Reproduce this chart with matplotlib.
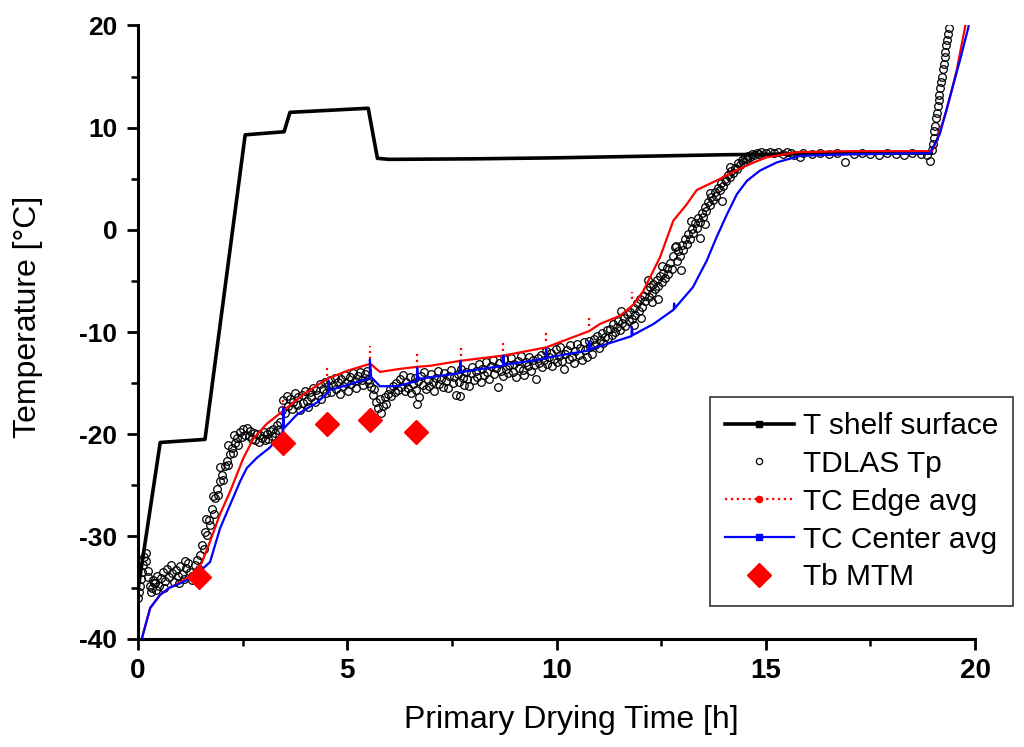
import matplotlib
matplotlib.use("Agg")
from matplotlib import pyplot as plt
from matplotlib.lines import Line2D
from matplotlib.ticker import MultipleLocator

# shelf surface temperature
shelf_t = [0.00, 0.53, 1.60, 2.56, 3.49, 3.63, 5.50, 5.72, 6.00, 8.00,
           10.00, 12.00, 14.00, 16.00, 18.00, 18.95]
shelf_T = [-35.2, -20.8, -20.5, 9.3, 9.6, 11.5, 11.9, 7.0, 6.9, 6.95,
           7.05, 7.2, 7.35, 7.45, 7.5, 7.5]

# TDLAS product temperature
tdlas_t = [
    0.00, 0.03, 0.05, 0.08, 0.10, 0.13, 0.15, 0.18, 0.20, 0.23, 0.25, 0.28, 0.30, 0.33, 0.35, 0.38,
    0.40, 0.42, 0.45, 0.50, 0.55, 0.60, 0.62, 0.65, 0.70, 0.75, 0.78, 0.80, 0.85, 0.90, 0.95,
    0.98, 1.00, 1.05, 1.10, 1.12, 1.15, 1.20, 1.25, 1.28, 1.30, 1.35, 1.40, 1.45, 1.49,
    1.53, 1.57, 1.61, 1.65, 1.69, 1.73, 1.77, 1.81, 1.84, 1.88, 1.92, 1.96, 2.00, 2.04, 2.08,
    2.12, 2.16, 2.20, 2.24, 2.28, 2.32, 2.36, 2.40, 2.44, 2.48, 2.52, 2.56, 2.60, 2.64, 2.68,
    2.72, 2.76, 2.80, 2.84, 2.88, 2.92, 2.96, 3.00, 3.04, 3.07, 3.11, 3.15, 3.19, 3.23, 3.27,
    3.31, 3.35, 3.39,
    3.43, 3.47, 3.51, 3.55, 3.59, 3.63, 3.67, 3.71, 3.75, 3.79, 3.83, 3.87, 3.91, 3.95, 3.99,
    4.03, 4.07, 4.11, 4.14, 4.18, 4.22, 4.26, 4.30, 4.34, 4.38, 4.42, 4.46, 4.50, 4.54, 4.58,
    4.62, 4.66, 4.70, 4.74, 4.78, 4.82, 4.86, 4.90, 4.94, 4.98, 5.02, 5.06, 5.10, 5.14, 5.18,
    5.22, 5.26, 5.30, 5.34, 5.38, 5.42, 5.46, 5.50, 5.53,
    5.57, 5.61, 5.65, 5.69, 5.73, 5.77, 5.81, 5.85, 5.89, 5.93, 5.97, 6.01, 6.05, 6.09, 6.13,
    6.17, 6.21,
    6.25, 6.29, 6.33, 6.37, 6.41, 6.45, 6.49, 6.53, 6.57, 6.61, 6.65, 6.69, 6.72, 6.76, 6.80,
    6.84, 6.88, 6.92, 6.96, 7.00, 7.04, 7.08, 7.12, 7.16, 7.20, 7.24, 7.28, 7.32, 7.36, 7.40,
    7.44, 7.48, 7.52, 7.56, 7.60, 7.64, 7.68, 7.72, 7.76, 7.79, 7.83, 7.87, 7.91, 7.95,
    7.99, 8.03, 8.07, 8.11, 8.15, 8.19, 8.23, 8.27, 8.31, 8.35, 8.39, 8.43, 8.47, 8.51, 8.55,
    8.59, 8.63, 8.67, 8.71, 8.75, 8.79, 8.83, 8.87, 8.91, 8.95, 8.99, 9.03, 9.07, 9.11, 9.15,
    9.19, 9.23, 9.27, 9.31, 9.35, 9.39, 9.43, 9.47, 9.51, 9.55, 9.59,
    9.62, 9.66, 9.70, 9.74, 9.78, 9.82, 9.86, 9.90, 9.94, 9.98, 10.02, 10.06, 10.09, 10.13,
    10.17, 10.21, 10.25, 10.29, 10.33, 10.37, 10.41, 10.45, 10.49, 10.53, 10.57, 10.61, 10.65,
    10.69, 10.73, 10.77, 10.81, 10.85, 10.89, 10.93, 10.97, 11.01, 11.04, 11.08, 11.12, 11.16,
    11.20,
    11.24, 11.28, 11.32, 11.36, 11.40, 11.44, 11.48, 11.52, 11.56, 11.60, 11.64, 11.68, 11.72,
    11.76, 11.80, 11.84, 11.88, 11.92, 11.96, 12.00, 12.04, 12.08, 12.12, 12.16, 12.20, 12.24,
    12.27, 12.31, 12.35, 12.39, 12.43, 12.47, 12.51, 12.55, 12.59, 12.63, 12.67, 12.71, 12.75,
    12.79, 12.83, 12.87, 12.91, 12.95, 12.99, 13.03, 13.07, 13.11, 13.15, 13.19, 13.23, 13.27,
    13.31, 13.35, 13.39, 13.43, 13.47, 13.50, 13.54, 13.58, 13.62, 13.66, 13.70, 13.74, 13.78,
    13.82, 13.86, 13.90, 13.94, 13.98, 14.02, 14.06, 14.10, 14.14, 14.18, 14.22, 14.26, 14.30,
    14.34, 14.38, 14.42, 14.46, 14.50, 14.54, 14.58, 14.63, 14.68, 14.73, 14.78, 14.83, 14.88,
    15.0, 15.1, 15.2, 15.3, 15.4, 15.5, 15.6, 15.68, 15.82, 15.9, 16.1, 16.3, 16.5, 16.7, 16.90,
    17.1, 17.3, 17.5, 17.7, 17.9, 18.1, 18.3, 18.5, 18.7, 18.85, 18.92,
    18.97, 18.99, 19.01, 19.03, 19.05, 19.07, 19.09, 19.11, 19.13, 19.15, 19.17, 19.19, 19.21,
    19.23, 19.25, 19.27, 19.29, 19.31, 19.33, 19.35, 19.37,
    11.55, 11.85, 12.02, 12.18, 12.28, 12.42, 12.52, 12.85, 12.97, 13.22, 13.42, 13.55, 13.66,
    13.95, 14.15, 1.62, 1.78, 1.95, 2.15, 2.30, 6.66, 7.70,
]
tdlas_T = [
    -36.0, -35.4, -34.8, -34.2, -33.5, -32.8, -32.0, -31.6, -32.4, -33.4, -34.0, -34.8, -35.4, -35.0, -34.3, -34.6,
    -34.6, -35.2, -33.9, -34.8, -34.1, -33.5, -35.0, -34.4, -33.2, -34.0, -32.8, -33.6, -34.5, -33.3, -33.9,
    -34.6, -32.9, -33.7, -34.2, -32.4, -33.1, -32.6, -33.5, -34.3, -33.9, -32.8, -32.3, -33.2, -31.8,
    -30.8, -31.2, -29.6, -29.9, -28.4, -28.9, -27.3, -27.8, -26.2, -25.4, -25.9, -24.6, -24.0, -24.5, -23.1,
    -22.6, -23.0, -21.9, -21.3, -21.8, -20.9, -20.4, -21.0, -19.8, -20.3, -19.5, -20.1, -19.4, -20.2, -19.7,
    -20.5, -19.9, -20.6, -20.0, -20.8, -20.1, -20.4, -19.8, -20.6, -20.0, -20.5, -19.7, -20.2, -19.5, -19.9,
    -19.1, -19.6, -18.8,
    -17.6, -16.6, -17.9, -16.3, -17.2, -16.5, -17.5, -16.8, -16.0, -17.1, -16.4, -17.6, -16.2, -16.9, -15.8,
    -16.7, -17.3, -15.9, -16.4, -15.5, -16.8, -15.7, -16.2, -15.1, -16.5, -15.6, -14.9, -16.0, -15.3, -14.7,
    -15.9, -15.2, -14.5, -15.6, -14.9, -16.1, -14.6, -15.3, -14.2, -15.0, -15.8, -14.4, -15.1, -14.0, -14.8,
    -15.5, -14.3, -13.9, -14.7, -15.2, -14.1, -13.8, -14.6, -15.0,
    -15.4, -16.2, -15.6, -16.8, -17.4, -16.5, -17.9, -17.2, -16.4, -17.0, -16.1, -15.6, -16.3, -15.3, -15.9,
    -15.0, -15.7,
    -14.6, -15.4, -14.2, -15.8, -14.9, -15.5, -14.4, -16.0, -15.1, -14.5, -15.7, -14.8, -16.4, -14.3, -15.2,
    -13.9, -15.6, -14.7, -15.3, -14.1, -14.9, -15.8, -14.5, -13.8, -15.1, -14.6, -15.4, -14.0, -14.8, -15.5,
    -14.3, -13.7, -15.0, -14.4, -16.2, -14.1, -14.9, -13.6, -14.5, -15.2, -13.9, -14.6, -15.3, -14.0,
    -13.4, -14.7, -13.8, -14.4, -13.1, -14.9, -13.6, -14.2, -12.9, -13.9, -14.6, -13.3, -12.7, -14.1, -13.5,
    -15.4, -13.0, -13.8, -14.3, -12.6, -13.6, -14.0, -13.2, -12.5, -13.9, -13.1, -14.4, -12.8, -13.5, -12.3,
    -13.7, -14.2, -12.9, -13.3, -12.4, -13.8, -12.7, -13.2, -14.6, -12.5, -13.0,
    -12.2, -13.4, -12.7, -11.9, -13.1, -12.4, -12.0, -13.3, -12.6, -11.7, -12.9, -12.3, -11.5, -12.8,
    -13.6, -12.1, -11.8, -12.6, -11.3, -12.4, -13.0, -11.9, -11.2, -12.2, -11.6, -12.7, -11.0,
    -11.8, -12.4, -10.9, -11.5, -12.1, -10.7, -11.3, -10.4, -11.6, -10.8, -10.1, -11.1, -10.5,
    -9.8,
    -10.6, -9.7, -10.3, -9.2, -10.0, -9.5, -8.9, -9.8, -9.1, -8.6, -9.4, -8.2, -8.9,
    -8.0, -8.7, -7.6, -8.3, -7.2, -7.9, -6.8, -7.5, -6.5, -7.0, -5.9, -6.6, -5.6,
    -6.2, -5.3, -5.8, -4.9, -5.5, -4.5, -5.1, -4.2, -4.7, -3.7, -4.3, -3.2, -3.8,
    -2.6, -1.7, -3.0, -2.1, -2.6, -1.5, -2.0, -0.9, -1.4, -0.4, -0.9, 0.1, -0.3,
    0.7, 0.2, 1.2, 0.8, 1.7, 1.3, 2.2, 1.8, 2.7, 2.4, 3.2, 2.9, 3.7,
    3.3, 4.1, 3.9, 4.6, 4.3, 5.0, 4.8, 5.4, 5.2, 5.8, 5.6, 6.1, 6.0,
    6.5, 6.3, 6.8, 6.6, 7.0, 6.9, 7.2, 7.1, 7.4, 7.3, 7.5, 7.4, 7.6,
    7.5, 7.6, 7.5, 7.6, 7.4, 7.6, 7.5, 7.3, 7.1, 7.5, 7.4, 7.5, 7.4, 7.5, 6.6,
    7.4, 7.5, 7.4, 7.3, 7.5, 7.4, 7.3, 7.5, 7.4, 7.3, 6.7,
    7.8, 8.4, 9.0, 9.7, 10.2, 10.9, 11.4, 12.1, 12.7, 13.2, 13.9, 14.5, 15.0,
    15.7, 16.2, 16.9, 17.4, 18.1, 18.6, 19.2, 19.8,
    -7.9, -9.3, -8.6, -4.9, -7.1, -6.8, -3.5, -1.6, -3.9, 0.9, -0.8, 0.6, 3.6,
    2.8, 6.2, -28.3, -26.0, -23.2, -21.0, -20.1, -17.0, -16.3,
]

# thermocouple, edge vials (average)
edge_t = [0.09, 0.29, 0.53, 0.76, 1.00, 1.24, 1.44, 1.52, 1.72, 1.96,
          2.20, 2.52, 2.76, 3.07, 3.47, 3.95, 4.51, 4.99, 5.55, 5.78,
          6.26, 6.67, 6.98, 7.72, 8.73, 9.75, 10.78, 11.04, 11.52, 11.84,
          12.07, 12.47, 12.79, 13.11, 13.35, 13.91, 14.23, 14.71, 15.02, 15.74,
          17.00, 18.97, 19.08, 19.32, 19.56, 19.76, 19.82]
edge_T = [-40.0, -37.0, -35.7, -35.0, -34.5, -33.9, -33.0, -32.6, -30.5, -27.8,
          -25.6, -22.3, -20.4, -19.0, -17.7, -16.1, -14.6, -13.8, -13.1, -13.9,
          -13.6, -13.4, -13.3, -12.8, -12.3, -11.5, -9.9, -9.2, -8.4, -7.3,
          -6.0, -2.7, 0.9, 2.5, 3.9, 5.0, 5.7, 6.6, 7.1, 7.6,
          7.7, 7.7, 8.7, 11.7, 15.6, 19.8, 21.5]
edge_spike_t = [3.47, 4.51, 5.55, 6.67, 7.71, 8.73, 9.75, 10.78, 11.80]
edge_spike_lo = [-17.4, -14.3, -12.6, -12.9, -12.3, -11.9, -10.9, -9.4, -6.8]
edge_spike_hi = [-16.4, -13.3, -11.4, -12.0, -11.5, -11.1, -9.9, -8.6, -6.1]

# thermocouple, center vials (average)
center_t = [0.09, 0.29, 0.53, 0.76, 1.00, 1.24, 1.56, 1.72, 1.96, 2.20,
            2.44, 2.60, 2.84, 3.15, 3.47, 3.47, 3.49, 3.79, 4.27, 4.55,
            4.55, 4.57, 5.07, 5.54, 5.54, 5.57, 5.78, 6.18, 6.66, 6.67,
            6.69, 7.69, 7.70, 7.72, 8.72, 8.73, 8.75, 9.74, 9.75, 9.77,
            10.77, 10.78, 10.80, 11.79, 11.80, 11.82, 12.32, 12.80, 12.81, 12.82,
            13.26, 13.59, 13.82, 14.07, 14.31, 14.55, 14.86, 15.26, 15.82, 16.22,
            17.00, 18.92, 19.16, 19.40, 19.64, 19.84, 19.88]
center_T = [-40.0, -37.0, -35.7, -35.0, -34.6, -34.1, -33.1, -32.5, -29.2, -26.9,
            -24.6, -23.3, -22.3, -21.3, -19.7, -17.4, -19.4, -18.1, -16.9, -15.9,
            -14.8, -15.7, -15.1, -14.5, -12.7, -14.4, -15.3, -15.3, -14.8, -13.5,
            -14.6, -14.0, -12.8, -13.9, -13.3, -12.3, -13.2, -12.6, -11.6, -12.5,
            -11.8, -10.9, -11.7, -10.4, -9.5, -10.3, -9.2, -7.8, -7.2, -7.7,
            -5.6, -3.0, -0.75, 1.5, 3.5, 4.8, 5.8, 6.6, 7.25, 7.3,
            7.4, 7.5, 9.4, 13.0, 16.6, 19.8, 21.0]

# product temperature at the bottom, manometric temperature measurement
mtm_t = [1.46, 3.46, 4.52, 5.54, 6.64]
mtm_T = [-34.0, -20.9, -19.0, -18.6, -19.8]


def plot_graph():
    plt.rcParams['font.family'] = ['Liberation Sans', 'DejaVu Sans']
    plt.rcParams['axes.unicode_minus'] = False

    fig = plt.figure(figsize=(10.24, 7.47), dpi=100)
    ax = fig.add_axes([0.1348, 0.1450, 0.8174, 0.8209])

    ax.plot(shelf_t, shelf_T, color='black', lw=2.6, zorder=2)
    ax.plot(tdlas_t, tdlas_T, ls='none', marker='o', ms=5.5, mfc='none',
            mec='black', mew=0.9, zorder=3)
    ax.plot(edge_t, edge_T, color='red', lw=1.6, zorder=4)
    ax.vlines(edge_spike_t, edge_spike_lo, edge_spike_hi, colors='red',
              linestyles=':', lw=1.6, zorder=4)
    ax.plot(center_t, center_T, color='blue', lw=1.6, zorder=5)
    ax.plot(mtm_t, mtm_T, ls='none', marker='D', ms=12, color='red', zorder=6)

    ax.set_xlim(0, 20)
    ax.set_ylim(-40, 20)
    ax.xaxis.set_major_locator(MultipleLocator(5))
    ax.xaxis.set_minor_locator(MultipleLocator(2.5))
    ax.yaxis.set_major_locator(MultipleLocator(10))
    ax.yaxis.set_minor_locator(MultipleLocator(5))

    for side in ['top', 'right']:
        ax.spines[side].set_visible(False)
    for side in ['left', 'bottom']:
        ax.spines[side].set_linewidth(2.2)

    ax.tick_params(which='major', direction='out', length=8, width=2.0)
    ax.tick_params(axis='x', which='major', pad=6, labelsize=20)
    ax.tick_params(axis='y', which='major', pad=7, labelsize=19)
    ax.tick_params(which='minor', direction='out', length=5, width=1.8)
    for lab in ax.get_xticklabels() + ax.get_yticklabels():
        lab.set_fontweight('bold')

    ax.set_xlabel('Primary Drying Time [h]', fontsize=23)
    ax.set_ylabel('Temperature [°C]', fontsize=23)
    ax.xaxis.set_label_coords(0.518, -0.108)
    ax.yaxis.set_label_coords(-0.1135, 0.525)

    handles = [
        Line2D([], [], color='black', lw=2.6, marker='s', ms=4),
        Line2D([], [], ls='none', marker='o', ms=4.5, mfc='none', mec='black', mew=0.9),
        Line2D([], [], color='red', lw=1.6, ls=':', marker='o', ms=4.5),
        Line2D([], [], color='blue', lw=1.6, marker='s', ms=4.5),
        Line2D([], [], ls='none', marker='D', ms=12, color='red'),
    ]
    labels = ['T shelf surface', 'TDLAS Tp', 'TC Edge avg', 'TC Center avg', 'Tb MTM']
    leg = fig.legend(handles, labels, loc='upper left',
                     bbox_to_anchor=(0.6934, 0.4685), bbox_transform=fig.transFigure,
                     borderaxespad=0, fontsize=21.5, frameon=True, fancybox=False,
                     handlelength=2.3, handletextpad=0.3, labelspacing=0.33,
                     borderpad=0.5)
    leg.get_frame().set_edgecolor('black')
    leg.get_frame().set_linewidth(1.2)

    fig.savefig('out.png', dpi=100)


if __name__ == '__main__':
    plot_graph()
